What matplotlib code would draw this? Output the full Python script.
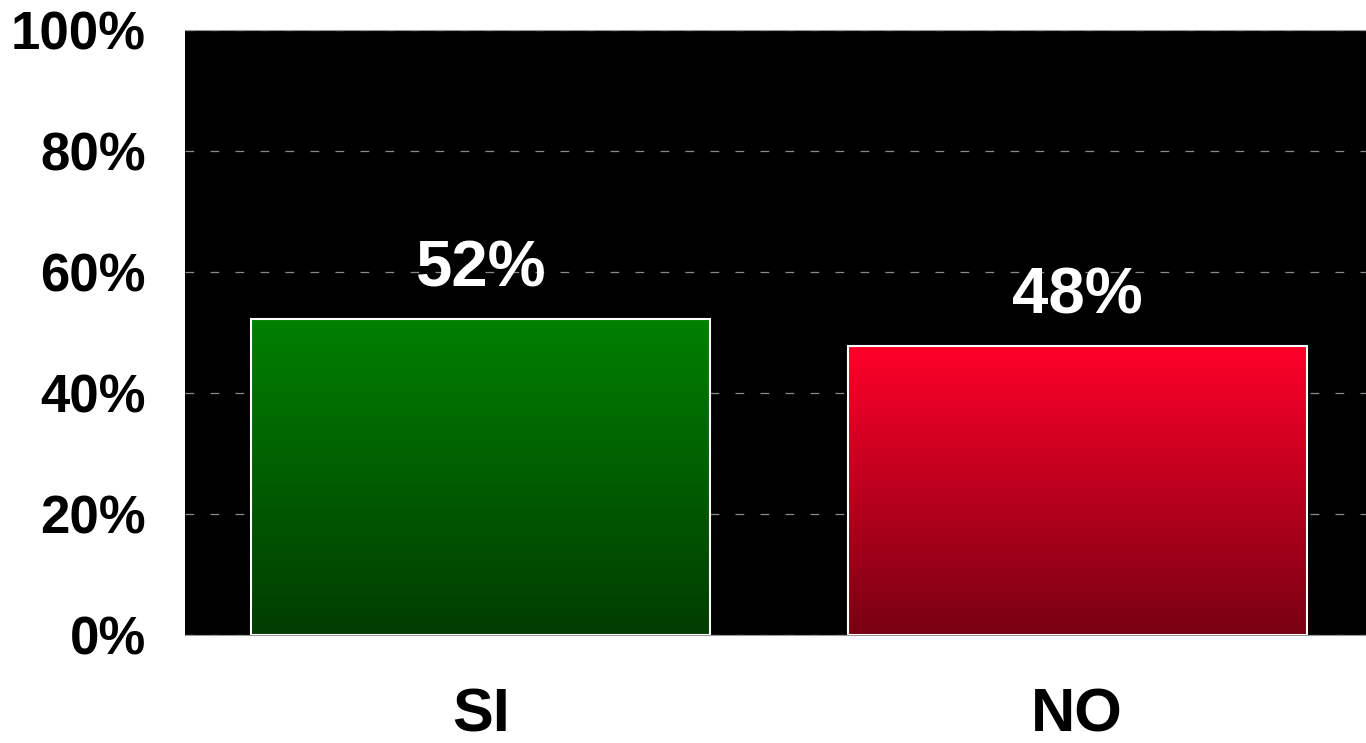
import matplotlib.pyplot as plt
import numpy as np
from matplotlib.colors import LinearSegmentedColormap

# datos
categorias = ['SI', 'NO']
valores = [52.2, 47.8]
etiquetas = ['52%', '48%']
y_ticks = [0, 20, 40, 60, 80, 100]
y_labels = ['0%', '20%', '40%', '60%', '80%', '100%']

plt.rcParams['font.family'] = ['Liberation Sans', 'DejaVu Sans']

fig = plt.figure(figsize=(13.66, 7.43), dpi=100)
ax = fig.add_axes([185 / 1366, 108 / 743, 1181 / 1366, 605 / 743])
ax.set_facecolor('black')

x = np.arange(len(categorias))
bars = ax.bar(x, valores, width=0.77, color='none', edgecolor='white', linewidth=1.5, zorder=3)

# degradado vertical dentro de cada barra
degradados = [('#003c00', '#008000'), ('#780012', '#ff0029')]
for bar, (abajo, arriba) in zip(bars, degradados):
    cmap = LinearSegmentedColormap.from_list('g', [abajo, arriba])
    x0 = bar.get_x()
    w = bar.get_width()
    h = bar.get_height()
    grad = np.linspace(0, 1, 256).reshape(-1, 1)
    im = ax.imshow(grad, cmap=cmap, origin='lower', aspect='auto',
                   extent=(x0, x0 + w, 0, h), zorder=2)
    im.set_clip_path(bar)

for bar, txt in zip(bars, etiquetas):
    ax.annotate(txt, xy=(bar.get_x() + bar.get_width() / 2, bar.get_height()),
                xytext=(0, 14), textcoords='offset points', ha='center', va='bottom',
                fontsize=47, fontweight='bold', color='white', zorder=4)

ax.set_xlim(-0.496, 1.484)
ax.set_ylim(0, 100)
ax.set_yticks(y_ticks)
ax.set_yticklabels(y_labels, fontsize=38, fontweight='bold')
ax.set_xticks(x)
ax.set_xticklabels(categorias, fontsize=44, fontweight='bold')
ax.tick_params(axis='y', length=0, pad=28)
ax.tick_params(axis='x', length=0, pad=38)

ax.yaxis.grid(True, color='#8a8a8a', linewidth=0.9, linestyle=(0, (7, 13)), zorder=1)
ax.set_axisbelow(True)
for s in ['left', 'right']:
    ax.spines[s].set_visible(False)
for s in ['top', 'bottom']:
    ax.spines[s].set_color('#999999')
    ax.spines[s].set_linewidth(0.8)

fig.savefig('out.png', dpi=100, facecolor='white')
